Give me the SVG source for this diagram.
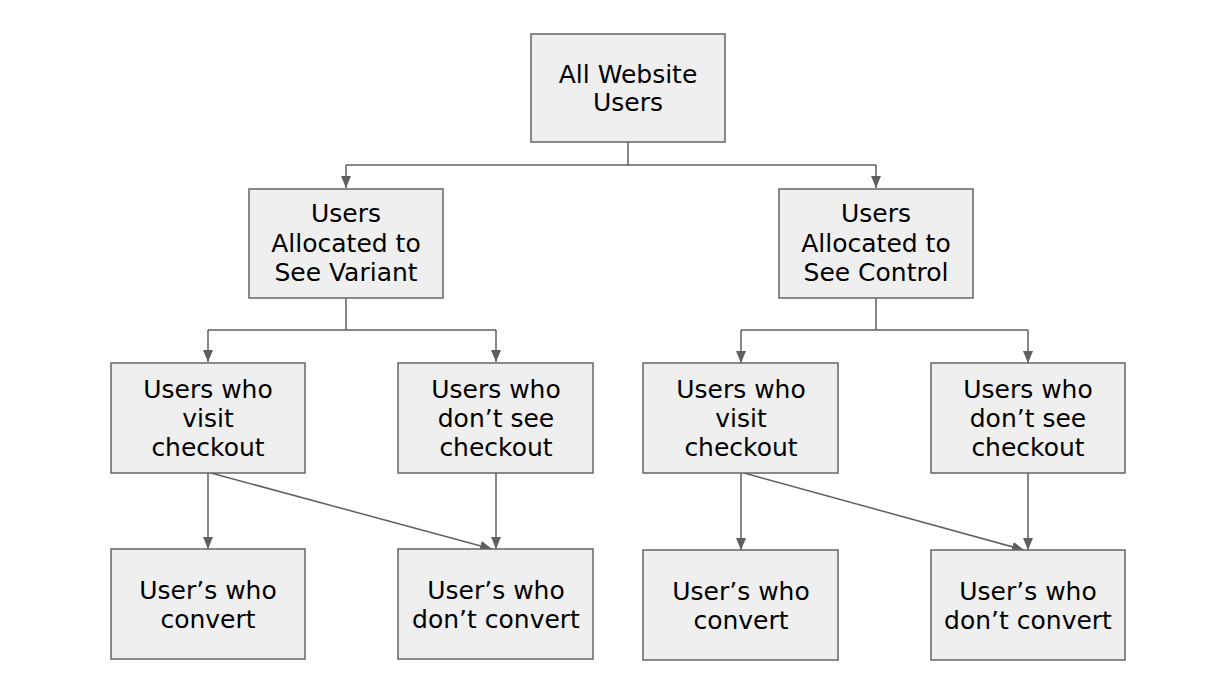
<svg xmlns="http://www.w3.org/2000/svg" width="1205" height="695" viewBox="0 0 1205 695">
<defs>
<style>
.box{fill:#efefef;stroke:#666;stroke-width:1.5}
.t{font-family:"DejaVu Sans",Verdana,sans-serif;font-size:25px;fill:#000;text-anchor:middle}
.c{fill:none;stroke:#5f5f5f;stroke-width:1.5}
</style>
<marker id="ah" viewBox="0 0 12 10" refX="12" refY="5" markerWidth="12" markerHeight="10" markerUnits="userSpaceOnUse" orient="auto">
<path d="M0,0 L12,5 L0,10 z" fill="#5f5f5f"/>
</marker>
</defs>
<rect width="1205" height="695" fill="#fff"/>
<g id="connectors">
<path class="c" d="M628,142 V165"/>
<path class="c" d="M346,165 H876" />
<path class="c" d="M346,165 V188" marker-end="url(#ah)"/>
<path class="c" d="M876,165 V188" marker-end="url(#ah)"/>
<path class="c" d="M346,298 V330 M208,330 H496"/>
<path class="c" d="M208,330 V362" marker-end="url(#ah)"/>
<path class="c" d="M496,330 V362" marker-end="url(#ah)"/>
<path class="c" d="M876,298 V330 M741,330 H1028"/>
<path class="c" d="M741,330 V363" marker-end="url(#ah)"/>
<path class="c" d="M1028,330 V363" marker-end="url(#ah)"/>
<path class="c" d="M208,473 V549" marker-end="url(#ah)"/>
<path class="c" d="M496,473 V549" marker-end="url(#ah)"/>
<path class="c" d="M211,473 L492,549" marker-end="url(#ah)"/>
<path class="c" d="M741,473 V550" marker-end="url(#ah)"/>
<path class="c" d="M1028,473 V550" marker-end="url(#ah)"/>
<path class="c" d="M744,473 L1024,550" marker-end="url(#ah)"/>
</g>
<g id="all-users">
<rect class="box" x="531" y="34" width="194" height="108"/>
<text class="t" x="628" y="83">All Website</text>
<text class="t" x="628" y="111">Users</text>
</g>
<g id="variant">
<rect class="box" x="249" y="189" width="194" height="109"/>
<text class="t" x="346" y="222">Users</text>
<text class="t" x="346" y="251.5">Allocated to</text>
<text class="t" x="346" y="281">See Variant</text>
</g>
<g id="control">
<rect class="box" x="779" y="189" width="194" height="109"/>
<text class="t" x="876" y="222">Users</text>
<text class="t" x="876" y="251.5">Allocated to</text>
<text class="t" x="876" y="281">See Control</text>
</g>
<g id="v-visit">
<rect class="box" x="111" y="363" width="194" height="110"/>
<text class="t" x="208" y="397.5">Users who</text>
<text class="t" x="208" y="426.5">visit</text>
<text class="t" x="208" y="455.5">checkout</text>
</g>
<g id="v-nosee">
<rect class="box" x="398" y="363" width="195" height="110"/>
<text class="t" x="496" y="397.5">Users who</text>
<text class="t" x="496" y="426.5">don’t see</text>
<text class="t" x="496" y="455.5">checkout</text>
</g>
<g id="c-visit">
<rect class="box" x="643" y="363" width="195" height="110"/>
<text class="t" x="741" y="397.5">Users who</text>
<text class="t" x="741" y="426.5">visit</text>
<text class="t" x="741" y="455.5">checkout</text>
</g>
<g id="c-nosee">
<rect class="box" x="931" y="363" width="194" height="110"/>
<text class="t" x="1028" y="397.5">Users who</text>
<text class="t" x="1028" y="426.5">don’t see</text>
<text class="t" x="1028" y="455.5">checkout</text>
</g>
<g id="v-convert">
<rect class="box" x="111" y="549" width="194" height="110"/>
<text class="t" x="208" y="598.5">User’s who</text>
<text class="t" x="208" y="628">convert</text>
</g>
<g id="v-noconvert">
<rect class="box" x="398" y="549" width="195" height="110"/>
<text class="t" x="496" y="598.5">User’s who</text>
<text class="t" x="496" y="628">don’t convert</text>
</g>
<g id="c-convert">
<rect class="box" x="643" y="550" width="195" height="110"/>
<text class="t" x="741" y="599.5">User’s who</text>
<text class="t" x="741" y="629">convert</text>
</g>
<g id="c-noconvert">
<rect class="box" x="931" y="550" width="194" height="110"/>
<text class="t" x="1028" y="599.5">User’s who</text>
<text class="t" x="1028" y="629">don’t convert</text>
</g>
</svg>
